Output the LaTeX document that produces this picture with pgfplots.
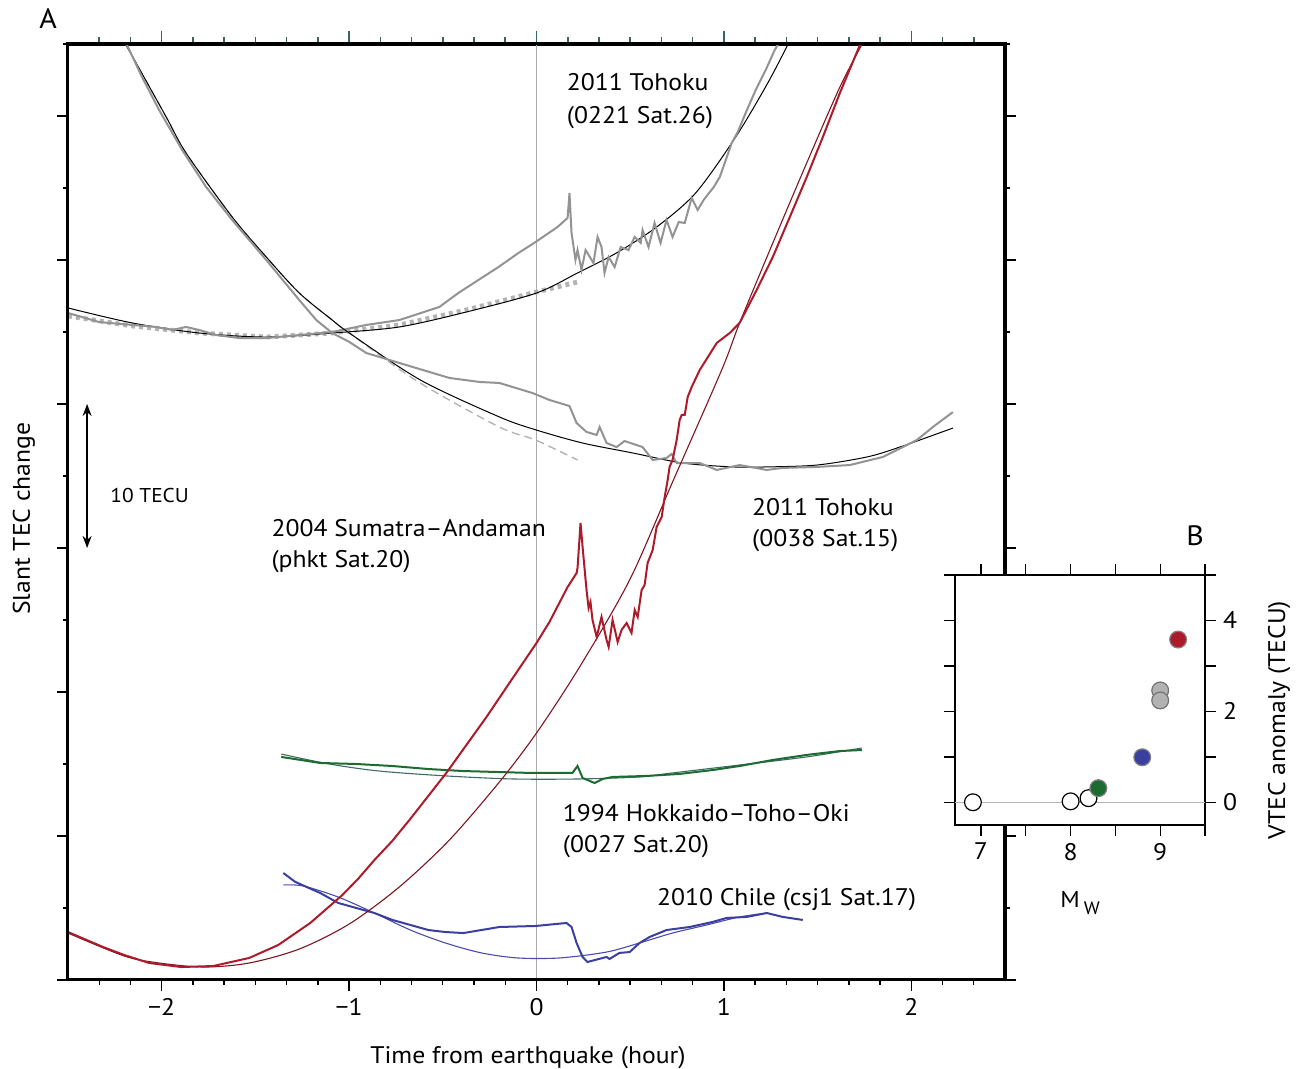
\documentclass[border=0pt]{standalone}
\usepackage{fontspec}
\setmainfont{PT Sans}[FakeStretch=1.07]
\usepackage{pgfplots}
\pgfplotsset{compat=1.18}
\usetikzlibrary{arrows.meta}

\definecolor{tecgray}{HTML}{939393}
\definecolor{fitgray}{HTML}{B4B4B4}
\definecolor{zerogray}{HTML}{ABABAB}
\definecolor{sumred}{HTML}{AD1A2A}
\definecolor{fitred}{HTML}{7F1520}
\definecolor{hokgreen}{HTML}{1C6B30}
\definecolor{fitteal}{HTML}{3E6B66}
\definecolor{chiblue}{HTML}{3B3FA0}
\definecolor{fitblue}{HTML}{4B4BB0}
\definecolor{tickteal}{HTML}{3A6464}

\newcommand{\lab}{\fontsize{12}{14}\selectfont}

\begin{document}
\begin{tikzpicture}
\path[use as bounding box] (-34pt,-44.5pt) rectangle (615pt,490pt);

% ---------------- panel A ----------------
\begin{axis}[
    at={(0pt,0pt)}, anchor=south west,
    scale only axis, width=468.5pt, height=468pt,
    xmin=-2.5, xmax=2.5, ymin=0, ymax=65,
    axis line style={line width=1.5pt},
    tick align=outside,
    xtick={-2,-1,0,1,2},
    xticklabels={−2,−1,0,1,2},
    minor xtick={-2.3333,-2.1667,-1.8333,-1.6667,-1.5,-1.3333,-1.1667,-0.8333,-0.6667,-0.5,-0.3333,-0.1667,0.1667,0.3333,0.5,0.6667,0.8333,1.1667,1.3333,1.5,1.6667,1.8333,2.1667,2.3333},
    xtick pos=left,
    ytick={0,10,...,60}, yticklabels={},
    minor ytick={5,15,...,65},
    ytick pos=both,
    major tick length=5.5pt, minor tick length=2.5pt,
    every tick/.style={line width=0.7pt, black},
    /pgf/number format/assume math mode=true,
    ticklabel style={font=\lab},
    xlabel={Time from earthquake (hour)},
    xlabel style={font=\lab, at={(axis description cs:0.4909,-0.0887)}, anchor=base},
    ylabel={Slant TEC change},
    ylabel style={font=\lab, at={(axis description cs:-0.0406,0.493)}, anchor=base},
]
% earthquake time
\addplot[color=zerogray, line width=0.6pt] coordinates {(0,0) (0,65)};

% 2011 Tohoku 0221 Sat.26 : reference, fit, data
\addplot[color=fitgray, line width=2.4pt, dash pattern=on 2pt off 2pt] coordinates {
 (-2.5,46.11) (-2.158,45.42) (-1.800,44.93) (-1.442,44.65) (-1.090,44.93)
 (-0.732,45.49) (-0.374,46.53) (0,47.78) (0.219,48.47)
};
\addplot[color=black, line width=0.5pt, smooth] coordinates {
 (-2.5,46.67) (-2.158,45.63) (-1.800,44.93) (-1.442,44.65) (-1.090,44.93)
 (-0.732,45.35) (-0.374,46.39) (0,47.71) (0.219,49.10) (0.427,50.49)
 (0.641,52.29) (0.849,54.65) (1.063,58.54) (1.234,62.29) (1.343,65.0)
};
\addplot[color=tecgray, line width=1pt] coordinates {
 (-2.5,46.32) (-2.334,45.69) (-2.158,45.49) (-2.030,45.35) (-1.944,45.14)
 (-1.870,45.35) (-1.800,45.14) (-1.709,44.79) (-1.587,44.58) (-1.442,44.58)
 (-1.266,44.79) (-1.090,45.00) (-0.908,45.49) (-0.732,45.83) (-0.518,46.74)
 (-0.417,47.71) (-0.310,48.61) (-0.203,49.51) (-0.096,50.49) (-0.005,51.25)
 (0.112,52.29) (0.166,52.92) (0.176,54.65) (0.187,51.88) (0.208,50.00)
 (0.219,50.69) (0.240,49.31) (0.262,50.69) (0.304,49.79) (0.326,51.60)
 (0.347,50.90) (0.363,49.10) (0.385,50.21) (0.417,49.51) (0.449,50.90)
 (0.491,50.69) (0.524,51.60) (0.556,51.18) (0.566,52.08) (0.598,50.90)
 (0.630,52.57) (0.662,51.18) (0.694,52.78) (0.726,51.60) (0.759,52.64)
 (0.791,52.57) (0.828,54.31) (0.860,53.47) (0.892,54.17) (0.946,55.07)
 (0.978,55.76) (1.010,56.94) (1.042,58.13) (1.074,58.89) (1.116,60.21)
 (1.170,61.81) (1.223,63.19) (1.271,64.58) (1.290,65.0)
};

% 2011 Tohoku 0038 Sat.15
\addplot[color=fitgray, line width=0.7pt, dash pattern=on 4pt off 2.5pt, smooth] coordinates {
 (-2.190,64.93) (-1.976,59.93) (-1.870,57.43) (-1.624,52.99) (-1.442,50.21)
 (-1.266,47.71) (-1.090,45.83) (-0.999,44.93) (-0.630,41.53) (-0.198,38.40)
 (-0.005,37.50) (0.219,36.11)
};
\addplot[color=black, line width=0.5pt, smooth] coordinates {
 (-2.190,64.93) (-1.976,59.93) (-1.870,57.43) (-1.624,52.99) (-1.442,50.21)
 (-1.266,47.71) (-1.090,45.83) (-0.999,44.93) (-0.620,41.67) (-0.198,39.10)
 (0,38.19) (0.246,37.29) (0.513,36.60) (0.780,35.90) (1.047,35.63)
 (1.229,35.63) (1.496,35.76) (1.763,36.32) (1.939,37.01) (2.222,38.33)
};
\addplot[color=tecgray, line width=1pt] coordinates {
 (-2.185,64.93) (-2.105,62.71) (-2.014,60.42) (-1.891,57.64) (-1.763,55.07)
 (-1.624,52.78) (-1.442,50.00) (-1.266,47.22) (-1.175,45.83) (-1.090,44.93)
 (-0.999,44.31) (-0.908,43.54) (-0.732,42.85) (-0.465,41.81) (-0.304,41.53)
 (-0.198,41.46) (-0.021,40.76) (0.069,40.28) (0.176,39.86) (0.214,38.68)
 (0.267,38.06) (0.321,37.85) (0.337,38.40) (0.374,37.29) (0.427,37.01)
 (0.470,37.43) (0.566,37.01) (0.620,36.11) (0.694,36.25) (0.721,36.53)
 (0.748,35.90) (0.871,35.90) (0.962,35.42) (1.084,35.76) (1.229,35.42)
 (1.314,35.56) (1.496,35.63) (1.672,35.76) (1.848,36.32) (2.030,37.50)
 (2.115,38.40) (2.222,39.44)
};

% 1994 Hokkaido-Toho-Oki 0027 Sat.20
\addplot[color=fitteal, line width=0.55pt, smooth] coordinates {
 (-1.362,15.69) (-1.106,15.00) (-0.839,14.51) (-0.481,14.17) (-0.128,13.96)
 (0.230,13.96) (0.550,14.10) (0.726,14.38) (1.084,14.93) (1.442,15.49) (1.736,16.11)
};
\addplot[color=hokgreen, line width=1pt] coordinates {
 (-1.362,15.49) (-1.154,15.07) (-0.962,15.00) (-0.769,14.86) (-0.577,14.65)
 (-0.390,14.51) (-0.198,14.44) (-0.037,14.38) (0.192,14.38) (0.219,14.86)
 (0.246,14.03) (0.310,13.68) (0.353,13.96) (0.406,14.10) (0.588,14.17)
 (0.764,14.31) (0.940,14.58) (1.084,14.86) (1.261,15.28) (1.442,15.63)
 (1.619,15.90) (1.736,15.97)
};

% 2010 Chile csj1 Sat.17
\addplot[color=fitblue, line width=0.55pt, smooth] coordinates {
 (-1.351,6.60) (-1.245,6.53) (-1.058,5.76) (-0.865,4.65) (-0.673,3.47)
 (-0.486,2.57) (-0.294,1.88) (-0.101,1.53) (0.123,1.53) (0.374,1.94)
 (0.550,2.57) (0.726,3.26) (0.908,3.82) (1.084,4.38) (1.229,4.65)
};
\addplot[color=chiblue, line width=1pt] coordinates {
 (-1.351,7.43) (-1.287,6.81) (-1.154,6.04) (-1.058,5.35) (-0.962,5.00)
 (-0.865,4.65) (-0.769,4.17) (-0.673,3.82) (-0.577,3.47) (-0.486,3.33)
 (-0.390,3.26) (-0.294,3.47) (-0.198,3.68) (-0.005,3.75) (0.160,3.96)
 (0.187,3.68) (0.214,2.57) (0.246,1.60) (0.272,1.25) (0.374,1.60)
 (0.390,1.46) (0.443,1.88) (0.497,1.94) (0.550,2.57) (0.604,2.99)
 (0.694,3.47) (0.817,3.68) (0.940,4.03) (1.015,4.31) (1.122,4.38)
 (1.229,4.65) (1.314,4.38) (1.421,4.17)
};

% 2004 Sumatra-Andaman phkt Sat.20
\addplot[color=fitred, line width=0.55pt, smooth] coordinates {
 (-2.5,3.26) (-2.201,1.67) (-2.014,1.18) (-1.773,0.90) (-1.533,1.18)
 (-1.266,2.15) (-0.999,3.89) (-0.732,6.46) (-0.465,9.72) (-0.198,13.75)
 (0,17.15) (0.230,21.74) (0.497,27.78) (0.726,34.58) (0.988,42.36)
 (1.084,45.63) (1.261,51.18) (1.442,56.74) (1.619,62.01) (1.738,65.0)
};
\addplot[color=sumred, line width=1pt] coordinates {
 (-2.5,3.33) (-2.313,2.29) (-2.201,1.74) (-2.067,1.18) (-1.896,0.90)
 (-1.725,0.97) (-1.533,1.53) (-1.378,2.43) (-1.207,3.96) (-1.036,5.90)
 (-0.950,7.05) (-0.865,8.33) (-0.770,9.65) (-0.678,11.11) (-0.481,14.38)
 (-0.267,18.26) (-0.134,20.83) (0,23.40) (0.069,24.86) (0.166,27.29)
 (0.214,28.26) (0.219,28.61)
 (0.235,31.74) (0.246,30.07) (0.267,27.08) (0.278,25.83) (0.288,26.25)
 (0.299,25.00) (0.321,23.82) (0.347,25.21) (0.374,23.61) (0.385,23.13)
 (0.406,25.00) (0.427,23.82) (0.433,23.47) (0.454,24.31) (0.481,24.79)
 (0.507,24.10) (0.524,25.69) (0.540,25.21) (0.561,27.08) (0.577,27.43)
 (0.593,28.96) (0.620,29.86) (0.641,31.46) (0.668,32.15) (0.684,33.54)
 (0.700,34.72) (0.710,35.63) (0.726,36.11) (0.748,37.50) (0.764,38.89)
 (0.775,39.24) (0.791,39.24) (0.807,40.49) (0.828,41.18) (0.871,42.36)
 (0.962,44.24) (1.031,44.93) (1.084,45.63) (1.175,47.92) (1.261,50.21)
 (1.352,52.99) (1.442,55.76) (1.528,58.54) (1.619,61.60) (1.728,65.0)
};

% labels
\node[anchor=base west, inner sep=0pt, font=\lab] at (axis cs:0.160,61.74) {2011 Tohoku};
\node[anchor=base west, inner sep=0pt, font=\lab] at (axis cs:0.160,59.51) {(0221 Sat.26)};
\node[anchor=base west, inner sep=0pt, font=\lab] at (axis cs:1.149,32.29) {2011 Tohoku};
\node[anchor=base west, inner sep=0pt, font=\lab] at (axis cs:1.149,30.10) {(0038 Sat.15)};
\node[anchor=base west, inner sep=0pt, font=\lab] at (axis cs:-1.416,30.83) {2004 Sumatra–Andaman};
\node[anchor=base west, inner sep=0pt, font=\lab] at (axis cs:-1.416,28.68) {(phkt Sat.20)};
\node[anchor=base west, inner sep=0pt, font=\lab] at (axis cs:0.139,11.04) {1994 Hokkaido–Toho–Oki};
\node[anchor=base west, inner sep=0pt, font=\lab] at (axis cs:0.139,8.82) {(0027 Sat.20)};
\node[anchor=base west, inner sep=0pt, font=\lab] at (axis cs:0.641,5.14) {2010 Chile (csj1 Sat.17)};
\node[anchor=base west, inner sep=0pt, font=\fontsize{10}{12}\selectfont] at (axis cs:-2.276,33.13) {10 TECU};
\draw[line width=0.8pt, {Stealth[length=6pt,width=4.5pt]}-{Stealth[length=6pt,width=4.5pt]}]
  (axis cs:-2.398,30) -- (axis cs:-2.398,40);
\end{axis}

% teal ticks along the top edge
\begin{axis}[
    at={(0pt,0pt)}, anchor=south west,
    scale only axis, width=468.5pt, height=468pt,
    xmin=-2.5, xmax=2.5, ymin=0, ymax=65,
    axis line style={line width=1.5pt},
    tick align=outside,
    xtick={-2,-1,0,1,2}, xticklabels={},
    minor xtick={-2.3333,-2.1667,-1.8333,-1.6667,-1.5,-1.3333,-1.1667,-0.8333,-0.6667,-0.5,-0.3333,-0.1667,0.1667,0.3333,0.5,0.6667,0.8333,1.1667,1.3333,1.5,1.6667,1.8333,2.1667,2.3333},
    xtick pos=right,
    ytick=\empty,
    major tick length=6.5pt, minor tick length=3.5pt,
    major tick style={line width=0.8pt, draw=tickteal},
    minor tick style={line width=0.8pt, draw=tickteal},
]
\end{axis}

\node[anchor=base west, inner sep=0pt, font=\fontsize{14}{16}\selectfont] at (-14.5pt,475.5pt) {A};
\node[anchor=base west, inner sep=0pt, font=\fontsize{14}{16}\selectfont] at (559pt,217pt) {B};

% ---------------- panel B ----------------
\begin{axis}[
    at={(443.5pt,77.5pt)}, anchor=south west,
    scale only axis, width=125pt, height=125pt,
    xmin=6.71, xmax=9.5, ymin=-0.5, ymax=5,
    axis background/.style={fill=white},
    axis line style={line width=1.2pt},
    tick align=outside,
    xtick={7,7.5,8,8.5,9,9.5}, xticklabels={7,,8,,9,},
    ytick={0,1,2,3,4,5}, yticklabels={0,,2,,4,},
    xtick pos=both, ytick pos=both, yticklabel pos=right,
    major tick length=5.5pt,
    every tick/.style={line width=0.7pt, black},
    /pgf/number format/assume math mode=true,
    ticklabel style={font=\lab},
    ylabel={VTEC anomaly (TECU)},
    ylabel style={font=\lab, at={(axis description cs:1.32,0.42)}, anchor=base},
]
\addplot[color=fitgray, line width=0.6pt] coordinates {(6.71,0) (9.5,0)};
\addplot[only marks, mark=*, mark size=4.2pt,
  mark options={fill=white, draw=black, line width=0.6pt}] coordinates {
 (6.91,0.0) (8.0,0.02) (8.2,0.09)
};
\addplot[only marks, mark=*, mark size=4.2pt,
  mark options={fill=hokgreen, draw=gray, line width=0.6pt}] coordinates {(8.31,0.31)};
\addplot[only marks, mark=*, mark size=4.2pt,
  mark options={fill=chiblue, draw=gray, line width=0.6pt}] coordinates {(8.8,0.99)};
\addplot[only marks, mark=*, mark size=4.2pt,
  mark options={fill=black!30, draw=black!55, line width=0.6pt}] coordinates {(9.0,2.46) (9.0,2.24)};
\addplot[only marks, mark=*, mark size=4.2pt,
  mark options={fill=sumred, draw=gray, line width=0.6pt}] coordinates {(9.2,3.58)};
\end{axis}

\node[anchor=base west, inner sep=0pt, font=\fontsize{11.5}{13}\selectfont] at (496pt,36pt)
  {M\hspace{2pt}\raisebox{-3.5pt}{\fontsize{9}{10}\selectfont W}};
\end{tikzpicture}
\end{document}
